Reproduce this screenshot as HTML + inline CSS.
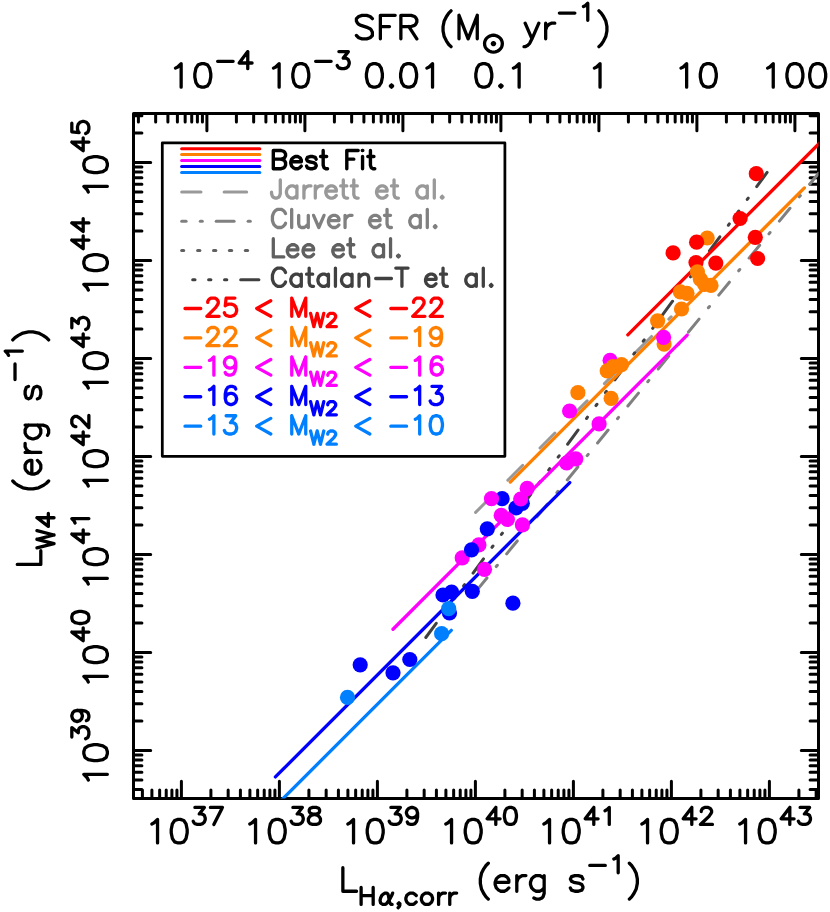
<!DOCTYPE html>
<html><head><meta charset="utf-8"><title>L_W4 vs L_Halpha</title>
<style>html,body{margin:0;padding:0;background:#fff;font-family:"Liberation Sans",sans-serif;}svg{display:block}</style>
</head><body>
<svg width="830" height="912" viewBox="0 0 830 912">
<rect x="0" y="0" width="830" height="912" fill="#fff"/>
<defs><clipPath id="cp"><rect x="133.5" y="113.5" width="685.0" height="685.0"/></clipPath></defs>
<rect x="133.5" y="113.5" width="685.0" height="685.0" fill="none" stroke="#000" stroke-width="3.0" stroke-linejoin="round"/>
<path d="M142.40 798.50L142.40 790.10 M151.90 798.50L151.90 790.10 M159.66 798.50L159.66 790.10 M166.22 798.50L166.22 790.10 M171.90 798.50L171.90 790.10 M176.92 798.50L176.92 790.10 M181.40 798.50L181.40 781.30 M210.90 798.50L210.90 790.10 M228.16 798.50L228.16 790.10 M240.40 798.50L240.40 790.10 M249.90 798.50L249.90 790.10 M257.66 798.50L257.66 790.10 M264.22 798.50L264.22 790.10 M269.90 798.50L269.90 790.10 M274.92 798.50L274.92 790.10 M279.40 798.50L279.40 781.30 M308.90 798.50L308.90 790.10 M326.16 798.50L326.16 790.10 M338.40 798.50L338.40 790.10 M347.90 798.50L347.90 790.10 M355.66 798.50L355.66 790.10 M362.22 798.50L362.22 790.10 M367.90 798.50L367.90 790.10 M372.92 798.50L372.92 790.10 M377.40 798.50L377.40 781.30 M406.90 798.50L406.90 790.10 M424.16 798.50L424.16 790.10 M436.40 798.50L436.40 790.10 M445.90 798.50L445.90 790.10 M453.66 798.50L453.66 790.10 M460.22 798.50L460.22 790.10 M465.90 798.50L465.90 790.10 M470.92 798.50L470.92 790.10 M475.40 798.50L475.40 781.30 M504.90 798.50L504.90 790.10 M522.16 798.50L522.16 790.10 M534.40 798.50L534.40 790.10 M543.90 798.50L543.90 790.10 M551.66 798.50L551.66 790.10 M558.22 798.50L558.22 790.10 M563.90 798.50L563.90 790.10 M568.92 798.50L568.92 790.10 M573.40 798.50L573.40 781.30 M602.90 798.50L602.90 790.10 M620.16 798.50L620.16 790.10 M632.40 798.50L632.40 790.10 M641.90 798.50L641.90 790.10 M649.66 798.50L649.66 790.10 M656.22 798.50L656.22 790.10 M661.90 798.50L661.90 790.10 M666.92 798.50L666.92 790.10 M671.40 798.50L671.40 781.30 M700.90 798.50L700.90 790.10 M718.16 798.50L718.16 790.10 M730.40 798.50L730.40 790.10 M739.90 798.50L739.90 790.10 M747.66 798.50L747.66 790.10 M754.22 798.50L754.22 790.10 M759.90 798.50L759.90 790.10 M764.92 798.50L764.92 790.10 M769.40 798.50L769.40 781.30 M798.90 798.50L798.90 790.10 M816.16 798.50L816.16 790.10 M138.40 113.50L138.40 121.90 M155.66 113.50L155.66 121.90 M167.90 113.50L167.90 121.90 M177.40 113.50L177.40 121.90 M185.16 113.50L185.16 121.90 M191.72 113.50L191.72 121.90 M197.40 113.50L197.40 121.90 M202.42 113.50L202.42 121.90 M206.90 113.50L206.90 130.70 M236.40 113.50L236.40 121.90 M253.66 113.50L253.66 121.90 M265.90 113.50L265.90 121.90 M275.40 113.50L275.40 121.90 M283.16 113.50L283.16 121.90 M289.72 113.50L289.72 121.90 M295.40 113.50L295.40 121.90 M300.42 113.50L300.42 121.90 M304.90 113.50L304.90 130.70 M334.40 113.50L334.40 121.90 M351.66 113.50L351.66 121.90 M363.90 113.50L363.90 121.90 M373.40 113.50L373.40 121.90 M381.16 113.50L381.16 121.90 M387.72 113.50L387.72 121.90 M393.40 113.50L393.40 121.90 M398.42 113.50L398.42 121.90 M402.90 113.50L402.90 130.70 M432.40 113.50L432.40 121.90 M449.66 113.50L449.66 121.90 M461.90 113.50L461.90 121.90 M471.40 113.50L471.40 121.90 M479.16 113.50L479.16 121.90 M485.72 113.50L485.72 121.90 M491.40 113.50L491.40 121.90 M496.42 113.50L496.42 121.90 M500.90 113.50L500.90 130.70 M530.40 113.50L530.40 121.90 M547.66 113.50L547.66 121.90 M559.90 113.50L559.90 121.90 M569.40 113.50L569.40 121.90 M577.16 113.50L577.16 121.90 M583.72 113.50L583.72 121.90 M589.40 113.50L589.40 121.90 M594.42 113.50L594.42 121.90 M598.90 113.50L598.90 130.70 M628.40 113.50L628.40 121.90 M645.66 113.50L645.66 121.90 M657.90 113.50L657.90 121.90 M667.40 113.50L667.40 121.90 M675.16 113.50L675.16 121.90 M681.72 113.50L681.72 121.90 M687.40 113.50L687.40 121.90 M692.42 113.50L692.42 121.90 M696.90 113.50L696.90 130.70 M726.40 113.50L726.40 121.90 M743.66 113.50L743.66 121.90 M755.90 113.50L755.90 121.90 M765.40 113.50L765.40 121.90 M773.16 113.50L773.16 121.90 M779.72 113.50L779.72 121.90 M785.40 113.50L785.40 121.90 M790.42 113.50L790.42 121.90 M794.90 113.50L794.90 130.70 M133.50 789.50L141.90 789.50 M818.50 789.50L810.10 789.50 M133.50 780.00L141.90 780.00 M818.50 780.00L810.10 780.00 M133.50 772.24L141.90 772.24 M818.50 772.24L810.10 772.24 M133.50 765.68L141.90 765.68 M818.50 765.68L810.10 765.68 M133.50 760.00L141.90 760.00 M818.50 760.00L810.10 760.00 M133.50 754.98L141.90 754.98 M818.50 754.98L810.10 754.98 M133.50 750.50L150.70 750.50 M818.50 750.50L801.30 750.50 M133.50 721.00L141.90 721.00 M818.50 721.00L810.10 721.00 M133.50 703.74L141.90 703.74 M818.50 703.74L810.10 703.74 M133.50 691.50L141.90 691.50 M818.50 691.50L810.10 691.50 M133.50 682.00L141.90 682.00 M818.50 682.00L810.10 682.00 M133.50 674.24L141.90 674.24 M818.50 674.24L810.10 674.24 M133.50 667.68L141.90 667.68 M818.50 667.68L810.10 667.68 M133.50 662.00L141.90 662.00 M818.50 662.00L810.10 662.00 M133.50 656.98L141.90 656.98 M818.50 656.98L810.10 656.98 M133.50 652.50L150.70 652.50 M818.50 652.50L801.30 652.50 M133.50 623.00L141.90 623.00 M818.50 623.00L810.10 623.00 M133.50 605.74L141.90 605.74 M818.50 605.74L810.10 605.74 M133.50 593.50L141.90 593.50 M818.50 593.50L810.10 593.50 M133.50 584.00L141.90 584.00 M818.50 584.00L810.10 584.00 M133.50 576.24L141.90 576.24 M818.50 576.24L810.10 576.24 M133.50 569.68L141.90 569.68 M818.50 569.68L810.10 569.68 M133.50 564.00L141.90 564.00 M818.50 564.00L810.10 564.00 M133.50 558.98L141.90 558.98 M818.50 558.98L810.10 558.98 M133.50 554.50L150.70 554.50 M818.50 554.50L801.30 554.50 M133.50 525.00L141.90 525.00 M818.50 525.00L810.10 525.00 M133.50 507.74L141.90 507.74 M818.50 507.74L810.10 507.74 M133.50 495.50L141.90 495.50 M818.50 495.50L810.10 495.50 M133.50 486.00L141.90 486.00 M818.50 486.00L810.10 486.00 M133.50 478.24L141.90 478.24 M818.50 478.24L810.10 478.24 M133.50 471.68L141.90 471.68 M818.50 471.68L810.10 471.68 M133.50 466.00L141.90 466.00 M818.50 466.00L810.10 466.00 M133.50 460.98L141.90 460.98 M818.50 460.98L810.10 460.98 M133.50 456.50L150.70 456.50 M818.50 456.50L801.30 456.50 M133.50 427.00L141.90 427.00 M818.50 427.00L810.10 427.00 M133.50 409.74L141.90 409.74 M818.50 409.74L810.10 409.74 M133.50 397.50L141.90 397.50 M818.50 397.50L810.10 397.50 M133.50 388.00L141.90 388.00 M818.50 388.00L810.10 388.00 M133.50 380.24L141.90 380.24 M818.50 380.24L810.10 380.24 M133.50 373.68L141.90 373.68 M818.50 373.68L810.10 373.68 M133.50 368.00L141.90 368.00 M818.50 368.00L810.10 368.00 M133.50 362.98L141.90 362.98 M818.50 362.98L810.10 362.98 M133.50 358.50L150.70 358.50 M818.50 358.50L801.30 358.50 M133.50 329.00L141.90 329.00 M818.50 329.00L810.10 329.00 M133.50 311.74L141.90 311.74 M818.50 311.74L810.10 311.74 M133.50 299.50L141.90 299.50 M818.50 299.50L810.10 299.50 M133.50 290.00L141.90 290.00 M818.50 290.00L810.10 290.00 M133.50 282.24L141.90 282.24 M818.50 282.24L810.10 282.24 M133.50 275.68L141.90 275.68 M818.50 275.68L810.10 275.68 M133.50 270.00L141.90 270.00 M818.50 270.00L810.10 270.00 M133.50 264.98L141.90 264.98 M818.50 264.98L810.10 264.98 M133.50 260.50L150.70 260.50 M818.50 260.50L801.30 260.50 M133.50 231.00L141.90 231.00 M818.50 231.00L810.10 231.00 M133.50 213.74L141.90 213.74 M818.50 213.74L810.10 213.74 M133.50 201.50L141.90 201.50 M818.50 201.50L810.10 201.50 M133.50 192.00L141.90 192.00 M818.50 192.00L810.10 192.00 M133.50 184.24L141.90 184.24 M818.50 184.24L810.10 184.24 M133.50 177.68L141.90 177.68 M818.50 177.68L810.10 177.68 M133.50 172.00L141.90 172.00 M818.50 172.00L810.10 172.00 M133.50 166.98L141.90 166.98 M818.50 166.98L810.10 166.98 M133.50 162.50L150.70 162.50 M818.50 162.50L801.30 162.50 M133.50 133.00L141.90 133.00 M818.50 133.00L810.10 133.00 M133.50 115.74L141.90 115.74 M818.50 115.74L810.10 115.74" stroke="#000" stroke-width="3.0" stroke-linecap="round" fill="none"/>
<g clip-path="url(#cp)">
<line x1="475.60" y1="512.40" x2="671.20" y2="316.80" stroke="#999999" stroke-width="3.0" stroke-linecap="round" stroke-dasharray="21.10 24.45" stroke-dashoffset="0"/>
<line x1="475.40" y1="592.00" x2="818.60" y2="173.30" stroke="#808080" stroke-width="3.0" stroke-linecap="round" stroke-dasharray="16.70 14.70 1.70 14.70" stroke-dashoffset="-1.5"/>
<line x1="425.80" y1="637.50" x2="768.20" y2="170.90" stroke="#404040" stroke-width="3.0" stroke-linecap="round" stroke-dasharray="17.60 14.30 1.70 14.30 1.70 14.30 1.70 14.30" stroke-dashoffset="0"/>
<line x1="263.30" y1="818.30" x2="451.30" y2="630.30" stroke="#007fff" stroke-width="3.3" stroke-linecap="round"/>
<line x1="275.40" y1="776.95" x2="569.80" y2="482.55" stroke="#0000ff" stroke-width="3.3" stroke-linecap="round"/>
<line x1="393.00" y1="629.25" x2="687.20" y2="335.05" stroke="#ff00ff" stroke-width="3.3" stroke-linecap="round"/>
<line x1="510.30" y1="482.05" x2="804.40" y2="187.95" stroke="#ff7f00" stroke-width="3.3" stroke-linecap="round"/>
<line x1="627.80" y1="334.85" x2="840.00" y2="122.65" stroke="#ff0000" stroke-width="3.3" stroke-linecap="round"/>
<circle cx="610.1" cy="360.3" r="7.6" fill="#ff00ff"/>
<circle cx="502.1" cy="498.7" r="7.6" fill="#0000ff"/>
<circle cx="516.0" cy="507.8" r="7.6" fill="#0000ff"/>
<circle cx="522.3" cy="503.3" r="7.6" fill="#0000ff"/>
<circle cx="487.3" cy="528.8" r="7.6" fill="#0000ff"/>
<circle cx="443.0" cy="595.0" r="7.6" fill="#0000ff"/>
<circle cx="451.6" cy="592.0" r="7.6" fill="#0000ff"/>
<circle cx="472.3" cy="591.3" r="7.6" fill="#0000ff"/>
<circle cx="512.9" cy="603.2" r="7.6" fill="#0000ff"/>
<circle cx="449.5" cy="613.0" r="7.6" fill="#0000ff"/>
<circle cx="409.8" cy="659.5" r="7.6" fill="#0000ff"/>
<circle cx="393.0" cy="672.8" r="7.6" fill="#0000ff"/>
<circle cx="360.2" cy="664.8" r="7.6" fill="#0000ff"/>
<circle cx="448.7" cy="608.7" r="7.6" fill="#007fff"/>
<circle cx="441.6" cy="633.7" r="7.6" fill="#007fff"/>
<circle cx="347.5" cy="697.4" r="7.6" fill="#007fff"/>
<circle cx="707.2" cy="238.0" r="7.6" fill="#ff7f00"/>
<circle cx="700.3" cy="279.1" r="7.6" fill="#ff7f00"/>
<circle cx="704.6" cy="284.4" r="7.6" fill="#ff7f00"/>
<circle cx="711.0" cy="285.4" r="7.6" fill="#ff7f00"/>
<circle cx="680.4" cy="291.9" r="7.6" fill="#ff7f00"/>
<circle cx="687.0" cy="293.3" r="7.6" fill="#ff7f00"/>
<circle cx="681.5" cy="309.0" r="7.6" fill="#ff7f00"/>
<circle cx="657.6" cy="320.8" r="7.6" fill="#ff7f00"/>
<circle cx="664.1" cy="344.1" r="7.6" fill="#ff7f00"/>
<circle cx="607.2" cy="370.9" r="7.6" fill="#ff7f00"/>
<circle cx="613.0" cy="366.6" r="7.6" fill="#ff7f00"/>
<circle cx="621.5" cy="364.6" r="7.6" fill="#ff7f00"/>
<circle cx="577.9" cy="392.7" r="7.6" fill="#ff7f00"/>
<circle cx="611.1" cy="398.4" r="7.6" fill="#ff7f00"/>
<circle cx="663.6" cy="337.3" r="7.6" fill="#ff00ff"/>
<circle cx="569.6" cy="411.0" r="7.6" fill="#ff00ff"/>
<circle cx="599.1" cy="423.9" r="7.6" fill="#ff00ff"/>
<circle cx="566.7" cy="463.0" r="7.6" fill="#ff00ff"/>
<circle cx="575.8" cy="458.8" r="7.6" fill="#ff00ff"/>
<circle cx="527.2" cy="488.4" r="7.6" fill="#ff00ff"/>
<circle cx="520.7" cy="499.0" r="7.6" fill="#ff00ff"/>
<circle cx="491.5" cy="498.7" r="7.6" fill="#ff00ff"/>
<circle cx="501.2" cy="515.4" r="7.6" fill="#ff00ff"/>
<circle cx="507.4" cy="519.5" r="7.6" fill="#ff00ff"/>
<circle cx="522.4" cy="524.9" r="7.6" fill="#ff00ff"/>
<circle cx="478.9" cy="544.9" r="7.6" fill="#ff00ff"/>
<circle cx="462.2" cy="557.8" r="7.6" fill="#ff00ff"/>
<circle cx="484.5" cy="569.3" r="7.6" fill="#ff00ff"/>
<circle cx="756.3" cy="173.7" r="7.6" fill="#ff0000"/>
<circle cx="740.1" cy="218.5" r="7.6" fill="#ff0000"/>
<circle cx="755.3" cy="237.3" r="7.6" fill="#ff0000"/>
<circle cx="757.6" cy="258.5" r="7.6" fill="#ff0000"/>
<circle cx="696.6" cy="242.2" r="7.6" fill="#ff0000"/>
<circle cx="673.1" cy="252.9" r="7.6" fill="#ff0000"/>
<circle cx="696.0" cy="262.6" r="7.6" fill="#ff0000"/>
<circle cx="715.8" cy="263.1" r="7.6" fill="#ff0000"/>
<circle cx="697.4" cy="271.8" r="7.6" fill="#ff7f00"/>
<circle cx="471.5" cy="549.8" r="7.6" fill="#0000ff"/>
</g>
<path d="M151.84 823.91 L154.12 822.79 L157.54 819.43 L157.54 842.95 M178.06 819.43 L174.64 820.55 L172.36 823.91 L171.22 829.51 L171.22 832.87 L172.36 838.47 L174.64 841.83 L178.06 842.95 L180.34 842.95 L183.76 841.83 L186.04 838.47 L187.18 832.87 L187.18 829.51 L186.04 823.91 L183.76 820.55 L180.34 819.43 L178.06 819.43 M194.90 807.42 L204.37 807.42 L199.21 813.91 L201.79 813.91 L203.51 814.73 L204.37 815.54 L205.23 817.97 L205.23 819.60 L204.37 822.03 L202.65 823.66 L200.07 824.47 L197.49 824.47 L194.90 823.66 L194.04 822.85 L193.18 821.22 M222.45 807.42 L213.84 824.47 M210.40 807.42 L222.45 807.42" fill="none" stroke="#000" stroke-width="3.3" stroke-linecap="round" stroke-linejoin="round"/>
<path d="M249.84 823.91 L252.12 822.79 L255.54 819.43 L255.54 842.95 M276.06 819.43 L272.64 820.55 L270.36 823.91 L269.22 829.51 L269.22 832.87 L270.36 838.47 L272.64 841.83 L276.06 842.95 L278.34 842.95 L281.76 841.83 L284.04 838.47 L285.18 832.87 L285.18 829.51 L284.04 823.91 L281.76 820.55 L278.34 819.43 L276.06 819.43 M292.90 807.42 L302.37 807.42 L297.21 813.91 L299.79 813.91 L301.51 814.73 L302.37 815.54 L303.23 817.97 L303.23 819.60 L302.37 822.03 L300.65 823.66 L298.07 824.47 L295.49 824.47 L292.90 823.66 L292.04 822.85 L291.18 821.22 M312.70 807.42 L310.12 808.23 L309.26 809.85 L309.26 811.48 L310.12 813.10 L311.84 813.91 L315.28 814.73 L317.86 815.54 L319.59 817.16 L320.45 818.79 L320.45 821.22 L319.59 822.85 L318.72 823.66 L316.14 824.47 L312.70 824.47 L310.12 823.66 L309.26 822.85 L308.40 821.22 L308.40 818.79 L309.26 817.16 L310.98 815.54 L313.56 814.73 L317.00 813.91 L318.72 813.10 L319.59 811.48 L319.59 809.85 L318.72 808.23 L316.14 807.42 L312.70 807.42" fill="none" stroke="#000" stroke-width="3.3" stroke-linecap="round" stroke-linejoin="round"/>
<path d="M347.84 823.91 L350.12 822.79 L353.54 819.43 L353.54 842.95 M374.06 819.43 L370.64 820.55 L368.36 823.91 L367.22 829.51 L367.22 832.87 L368.36 838.47 L370.64 841.83 L374.06 842.95 L376.34 842.95 L379.76 841.83 L382.04 838.47 L383.18 832.87 L383.18 829.51 L382.04 823.91 L379.76 820.55 L376.34 819.43 L374.06 819.43 M390.90 807.42 L400.37 807.42 L395.21 813.91 L397.79 813.91 L399.51 814.73 L400.37 815.54 L401.23 817.97 L401.23 819.60 L400.37 822.03 L398.65 823.66 L396.07 824.47 L393.49 824.47 L390.90 823.66 L390.04 822.85 L389.18 821.22 M417.59 813.10 L416.72 815.54 L415.00 817.16 L412.42 817.97 L411.56 817.97 L408.98 817.16 L407.26 815.54 L406.40 813.10 L406.40 812.29 L407.26 809.85 L408.98 808.23 L411.56 807.42 L412.42 807.42 L415.00 808.23 L416.72 809.85 L417.59 813.10 L417.59 817.16 L416.72 821.22 L415.00 823.66 L412.42 824.47 L410.70 824.47 L408.12 823.66 L407.26 822.03" fill="none" stroke="#000" stroke-width="3.3" stroke-linecap="round" stroke-linejoin="round"/>
<path d="M445.84 823.91 L448.12 822.79 L451.54 819.43 L451.54 842.95 M472.06 819.43 L468.64 820.55 L466.36 823.91 L465.22 829.51 L465.22 832.87 L466.36 838.47 L468.64 841.83 L472.06 842.95 L474.34 842.95 L477.76 841.83 L480.04 838.47 L481.18 832.87 L481.18 829.51 L480.04 823.91 L477.76 820.55 L474.34 819.43 L472.06 819.43 M495.79 807.42 L487.18 818.79 L500.09 818.79 M495.79 807.42 L495.79 824.47 M509.56 807.42 L506.98 808.23 L505.26 810.67 L504.40 814.73 L504.40 817.16 L505.26 821.22 L506.98 823.66 L509.56 824.47 L511.28 824.47 L513.86 823.66 L515.59 821.22 L516.45 817.16 L516.45 814.73 L515.59 810.67 L513.86 808.23 L511.28 807.42 L509.56 807.42" fill="none" stroke="#000" stroke-width="3.3" stroke-linecap="round" stroke-linejoin="round"/>
<path d="M543.84 823.91 L546.12 822.79 L549.54 819.43 L549.54 842.95 M570.06 819.43 L566.64 820.55 L564.36 823.91 L563.22 829.51 L563.22 832.87 L564.36 838.47 L566.64 841.83 L570.06 842.95 L572.34 842.95 L575.76 841.83 L578.04 838.47 L579.18 832.87 L579.18 829.51 L578.04 823.91 L575.76 820.55 L572.34 819.43 L570.06 819.43 M593.79 807.42 L585.18 818.79 L598.09 818.79 M593.79 807.42 L593.79 824.47 M604.98 810.67 L606.70 809.85 L609.28 807.42 L609.28 824.47" fill="none" stroke="#000" stroke-width="3.3" stroke-linecap="round" stroke-linejoin="round"/>
<path d="M641.84 823.91 L644.12 822.79 L647.54 819.43 L647.54 842.95 M668.06 819.43 L664.64 820.55 L662.36 823.91 L661.22 829.51 L661.22 832.87 L662.36 838.47 L664.64 841.83 L668.06 842.95 L670.34 842.95 L673.76 841.83 L676.04 838.47 L677.18 832.87 L677.18 829.51 L676.04 823.91 L673.76 820.55 L670.34 819.43 L668.06 819.43 M691.79 807.42 L683.18 818.79 L696.09 818.79 M691.79 807.42 L691.79 824.47 M701.26 811.48 L701.26 810.67 L702.12 809.04 L702.98 808.23 L704.70 807.42 L708.14 807.42 L709.86 808.23 L710.72 809.04 L711.59 810.67 L711.59 812.29 L710.72 813.91 L709.00 816.35 L700.40 824.47 L712.45 824.47" fill="none" stroke="#000" stroke-width="3.3" stroke-linecap="round" stroke-linejoin="round"/>
<path d="M739.84 823.91 L742.12 822.79 L745.54 819.43 L745.54 842.95 M766.06 819.43 L762.64 820.55 L760.36 823.91 L759.22 829.51 L759.22 832.87 L760.36 838.47 L762.64 841.83 L766.06 842.95 L768.34 842.95 L771.76 841.83 L774.04 838.47 L775.18 832.87 L775.18 829.51 L774.04 823.91 L771.76 820.55 L768.34 819.43 L766.06 819.43 M789.79 807.42 L781.18 818.79 L794.09 818.79 M789.79 807.42 L789.79 824.47 M800.12 807.42 L809.59 807.42 L804.42 813.91 L807.00 813.91 L808.72 814.73 L809.59 815.54 L810.45 817.97 L810.45 819.60 L809.59 822.03 L807.86 823.66 L805.28 824.47 L802.70 824.47 L800.12 823.66 L799.26 822.85 L798.40 821.22" fill="none" stroke="#000" stroke-width="3.3" stroke-linecap="round" stroke-linejoin="round"/>
<path d="M88.31 780.06 L87.19 777.78 L83.83 774.36 L107.35 774.36 M83.83 753.84 L84.95 757.26 L88.31 759.54 L93.91 760.68 L97.27 760.68 L102.87 759.54 L106.23 757.26 L107.35 753.84 L107.35 751.56 L106.23 748.14 L102.87 745.86 L97.27 744.72 L93.91 744.72 L88.31 745.86 L84.95 748.14 L83.83 751.56 L83.83 753.84 M71.82 737.00 L71.82 727.53 L78.31 732.69 L78.31 730.11 L79.13 728.39 L79.94 727.53 L82.37 726.67 L84.00 726.67 L86.43 727.53 L88.06 729.25 L88.87 731.83 L88.87 734.41 L88.06 737.00 L87.25 737.86 L85.62 738.72 M77.50 710.31 L79.94 711.18 L81.56 712.90 L82.37 715.48 L82.37 716.34 L81.56 718.92 L79.94 720.64 L77.50 721.50 L76.69 721.50 L74.25 720.64 L72.63 718.92 L71.82 716.34 L71.82 715.48 L72.63 712.90 L74.25 711.18 L77.50 710.31 L81.56 710.31 L85.62 711.18 L88.06 712.90 L88.87 715.48 L88.87 717.20 L88.06 719.78 L86.43 720.64" fill="none" stroke="#000" stroke-width="3.3" stroke-linecap="round" stroke-linejoin="round"/>
<path d="M88.31 682.06 L87.19 679.78 L83.83 676.36 L107.35 676.36 M83.83 655.84 L84.95 659.26 L88.31 661.54 L93.91 662.68 L97.27 662.68 L102.87 661.54 L106.23 659.26 L107.35 655.84 L107.35 653.56 L106.23 650.14 L102.87 647.86 L97.27 646.72 L93.91 646.72 L88.31 647.86 L84.95 650.14 L83.83 653.56 L83.83 655.84 M71.82 632.11 L83.19 640.72 L83.19 627.81 M71.82 632.11 L88.87 632.11 M71.82 618.34 L72.63 620.92 L75.07 622.64 L79.13 623.50 L81.56 623.50 L85.62 622.64 L88.06 620.92 L88.87 618.34 L88.87 616.62 L88.06 614.04 L85.62 612.31 L81.56 611.45 L79.13 611.45 L75.07 612.31 L72.63 614.04 L71.82 616.62 L71.82 618.34" fill="none" stroke="#000" stroke-width="3.3" stroke-linecap="round" stroke-linejoin="round"/>
<path d="M88.31 584.06 L87.19 581.78 L83.83 578.36 L107.35 578.36 M83.83 557.84 L84.95 561.26 L88.31 563.54 L93.91 564.68 L97.27 564.68 L102.87 563.54 L106.23 561.26 L107.35 557.84 L107.35 555.56 L106.23 552.14 L102.87 549.86 L97.27 548.72 L93.91 548.72 L88.31 549.86 L84.95 552.14 L83.83 555.56 L83.83 557.84 M71.82 534.11 L83.19 542.72 L83.19 529.81 M71.82 534.11 L88.87 534.11 M75.07 522.92 L74.25 521.20 L71.82 518.62 L88.87 518.62" fill="none" stroke="#000" stroke-width="3.3" stroke-linecap="round" stroke-linejoin="round"/>
<path d="M88.31 486.06 L87.19 483.78 L83.83 480.36 L107.35 480.36 M83.83 459.84 L84.95 463.26 L88.31 465.54 L93.91 466.68 L97.27 466.68 L102.87 465.54 L106.23 463.26 L107.35 459.84 L107.35 457.56 L106.23 454.14 L102.87 451.86 L97.27 450.72 L93.91 450.72 L88.31 451.86 L84.95 454.14 L83.83 457.56 L83.83 459.84 M71.82 436.11 L83.19 444.72 L83.19 431.81 M71.82 436.11 L88.87 436.11 M75.88 426.64 L75.07 426.64 L73.44 425.78 L72.63 424.92 L71.82 423.20 L71.82 419.76 L72.63 418.04 L73.44 417.18 L75.07 416.31 L76.69 416.31 L78.31 417.18 L80.75 418.90 L88.87 427.50 L88.87 415.45" fill="none" stroke="#000" stroke-width="3.3" stroke-linecap="round" stroke-linejoin="round"/>
<path d="M88.31 388.06 L87.19 385.78 L83.83 382.36 L107.35 382.36 M83.83 361.84 L84.95 365.26 L88.31 367.54 L93.91 368.68 L97.27 368.68 L102.87 367.54 L106.23 365.26 L107.35 361.84 L107.35 359.56 L106.23 356.14 L102.87 353.86 L97.27 352.72 L93.91 352.72 L88.31 353.86 L84.95 356.14 L83.83 359.56 L83.83 361.84 M71.82 338.11 L83.19 346.72 L83.19 333.81 M71.82 338.11 L88.87 338.11 M71.82 327.78 L71.82 318.31 L78.31 323.48 L78.31 320.90 L79.13 319.18 L79.94 318.31 L82.37 317.45 L84.00 317.45 L86.43 318.31 L88.06 320.04 L88.87 322.62 L88.87 325.20 L88.06 327.78 L87.25 328.64 L85.62 329.50" fill="none" stroke="#000" stroke-width="3.3" stroke-linecap="round" stroke-linejoin="round"/>
<path d="M88.31 290.06 L87.19 287.78 L83.83 284.36 L107.35 284.36 M83.83 263.84 L84.95 267.26 L88.31 269.54 L93.91 270.68 L97.27 270.68 L102.87 269.54 L106.23 267.26 L107.35 263.84 L107.35 261.56 L106.23 258.14 L102.87 255.86 L97.27 254.72 L93.91 254.72 L88.31 255.86 L84.95 258.14 L83.83 261.56 L83.83 263.84 M71.82 240.11 L83.19 248.72 L83.19 235.81 M71.82 240.11 L88.87 240.11 M71.82 222.90 L83.19 231.50 L83.19 218.59 M71.82 222.90 L88.87 222.90" fill="none" stroke="#000" stroke-width="3.3" stroke-linecap="round" stroke-linejoin="round"/>
<path d="M88.31 192.06 L87.19 189.78 L83.83 186.36 L107.35 186.36 M83.83 165.84 L84.95 169.26 L88.31 171.54 L93.91 172.68 L97.27 172.68 L102.87 171.54 L106.23 169.26 L107.35 165.84 L107.35 163.56 L106.23 160.14 L102.87 157.86 L97.27 156.72 L93.91 156.72 L88.31 157.86 L84.95 160.14 L83.83 163.56 L83.83 165.84 M71.82 142.11 L83.19 150.72 L83.19 137.81 M71.82 142.11 L88.87 142.11 M71.82 123.18 L71.82 131.78 L79.13 132.64 L78.31 131.78 L77.50 129.20 L77.50 126.62 L78.31 124.04 L79.94 122.31 L82.37 121.45 L84.00 121.45 L86.43 122.31 L88.06 124.04 L88.87 126.62 L88.87 129.20 L88.06 131.78 L87.25 132.64 L85.62 133.50" fill="none" stroke="#000" stroke-width="3.3" stroke-linecap="round" stroke-linejoin="round"/>
<path d="M175.44 68.11 L177.72 66.99 L181.14 63.63 L181.14 87.15 M201.66 63.63 L198.24 64.75 L195.96 68.11 L194.82 73.71 L194.82 77.07 L195.96 82.67 L198.24 86.03 L201.66 87.15 L203.94 87.15 L207.36 86.03 L209.64 82.67 L210.78 77.07 L210.78 73.71 L209.64 68.11 L207.36 64.75 L203.94 63.63 L201.66 63.63 M217.64 61.36 L233.14 61.36 M247.77 51.62 L239.16 62.99 L252.07 62.99 M247.77 51.62 L247.77 68.67" fill="none" stroke="#000" stroke-width="3.3" stroke-linecap="round" stroke-linejoin="round"/>
<path d="M273.44 68.11 L275.72 66.99 L279.14 63.63 L279.14 87.15 M299.66 63.63 L296.24 64.75 L293.96 68.11 L292.82 73.71 L292.82 77.07 L293.96 82.67 L296.24 86.03 L299.66 87.15 L301.94 87.15 L305.36 86.03 L307.64 82.67 L308.78 77.07 L308.78 73.71 L307.64 68.11 L305.36 64.75 L301.94 63.63 L299.66 63.63 M315.64 61.36 L331.14 61.36 M338.88 51.62 L348.35 51.62 L343.19 58.11 L345.77 58.11 L347.49 58.93 L348.35 59.74 L349.21 62.17 L349.21 63.80 L348.35 66.23 L346.63 67.86 L344.05 68.67 L341.46 68.67 L338.88 67.86 L338.02 67.05 L337.16 65.42" fill="none" stroke="#000" stroke-width="3.3" stroke-linecap="round" stroke-linejoin="round"/>
<path d="M373.26 63.63 L369.84 64.75 L367.56 68.11 L366.42 73.71 L366.42 77.07 L367.56 82.67 L369.84 86.03 L373.26 87.15 L375.54 87.15 L378.96 86.03 L381.24 82.67 L382.38 77.07 L382.38 73.71 L381.24 68.11 L378.96 64.75 L375.54 63.63 L373.26 63.63 M391.50 84.91 L390.36 86.03 L391.50 87.15 L392.64 86.03 L391.50 84.91 M407.46 63.63 L404.04 64.75 L401.76 68.11 L400.62 73.71 L400.62 77.07 L401.76 82.67 L404.04 86.03 L407.46 87.15 L409.74 87.15 L413.16 86.03 L415.44 82.67 L416.58 77.07 L416.58 73.71 L415.44 68.11 L413.16 64.75 L409.74 63.63 L407.46 63.63 M426.84 68.11 L429.12 66.99 L432.54 63.63 L432.54 87.15" fill="none" stroke="#000" stroke-width="3.3" stroke-linecap="round" stroke-linejoin="round"/>
<path d="M482.66 63.63 L479.24 64.75 L476.96 68.11 L475.82 73.71 L475.82 77.07 L476.96 82.67 L479.24 86.03 L482.66 87.15 L484.94 87.15 L488.36 86.03 L490.64 82.67 L491.78 77.07 L491.78 73.71 L490.64 68.11 L488.36 64.75 L484.94 63.63 L482.66 63.63 M500.90 84.91 L499.76 86.03 L500.90 87.15 L502.04 86.03 L500.90 84.91 M513.44 68.11 L515.72 66.99 L519.14 63.63 L519.14 87.15" fill="none" stroke="#000" stroke-width="3.3" stroke-linecap="round" stroke-linejoin="round"/>
<path d="M594.34 68.11 L596.62 66.99 L600.04 63.63 L600.04 87.15" fill="none" stroke="#000" stroke-width="3.3" stroke-linecap="round" stroke-linejoin="round"/>
<path d="M680.94 68.11 L683.22 66.99 L686.64 63.63 L686.64 87.15 M707.16 63.63 L703.74 64.75 L701.46 68.11 L700.32 73.71 L700.32 77.07 L701.46 82.67 L703.74 86.03 L707.16 87.15 L709.44 87.15 L712.86 86.03 L715.14 82.67 L716.28 77.07 L716.28 73.71 L715.14 68.11 L712.86 64.75 L709.44 63.63 L707.16 63.63" fill="none" stroke="#000" stroke-width="3.3" stroke-linecap="round" stroke-linejoin="round"/>
<path d="M767.54 68.11 L769.82 66.99 L773.24 63.63 L773.24 87.15 M793.76 63.63 L790.34 64.75 L788.06 68.11 L786.92 73.71 L786.92 77.07 L788.06 82.67 L790.34 86.03 L793.76 87.15 L796.04 87.15 L799.46 86.03 L801.74 82.67 L802.88 77.07 L802.88 73.71 L801.74 68.11 L799.46 64.75 L796.04 63.63 L793.76 63.63 M816.56 63.63 L813.14 64.75 L810.86 68.11 L809.72 73.71 L809.72 77.07 L810.86 82.67 L813.14 86.03 L816.56 87.15 L818.84 87.15 L822.26 86.03 L824.54 82.67 L825.68 77.07 L825.68 73.71 L824.54 68.11 L822.26 64.75 L818.84 63.63 L816.56 63.63" fill="none" stroke="#000" stroke-width="3.3" stroke-linecap="round" stroke-linejoin="round"/>
<path d="M372.38 18.69 L370.10 16.45 L366.68 15.33 L362.12 15.33 L358.70 16.45 L356.42 18.69 L356.42 20.93 L357.56 23.17 L358.70 24.29 L360.98 25.41 L367.82 27.65 L370.10 28.77 L371.24 29.89 L372.38 32.13 L372.38 35.49 L370.10 37.73 L366.68 38.85 L362.12 38.85 L358.70 37.73 L356.42 35.49 M380.36 15.33 L380.36 38.85 M380.36 15.33 L395.18 15.33 M380.36 26.53 L389.48 26.53 M400.88 15.33 L400.88 38.85 M400.88 15.33 L411.14 15.33 L414.56 16.45 L415.70 17.57 L416.84 19.81 L416.84 22.05 L415.70 24.29 L414.56 25.41 L411.14 26.53 L400.88 26.53 M408.86 26.53 L416.84 38.85 M451.04 10.85 L448.76 13.09 L446.48 16.45 L444.20 20.93 L443.06 26.53 L443.06 31.01 L444.20 36.61 L446.48 41.09 L448.76 44.45 L451.04 46.69 M459.02 15.33 L459.02 38.85 M459.02 15.33 L468.14 38.85 M477.26 15.33 L468.14 38.85 M477.26 15.33 L477.26 38.85 M502.35 43.66 L502.12 41.79 L501.47 40.02 L500.40 38.42 L498.99 37.09 L497.30 36.09 L495.42 35.47 L493.44 35.26 L491.46 35.47 L489.57 36.09 L487.89 37.09 L486.47 38.42 L485.41 40.02 L484.75 41.79 L484.53 43.66 L484.75 45.53 L485.41 47.31 L486.47 48.90 L487.89 50.23 L489.57 51.23 L491.46 51.86 L493.44 52.07 L495.42 51.86 L497.30 51.23 L498.99 50.23 L500.40 48.90 L501.47 47.31 L502.12 45.53 L502.35 43.66 M494.56 43.66 L494.23 42.92 L493.44 42.61 L492.65 42.92 L492.32 43.66 L492.65 44.41 L493.44 44.72 L494.23 44.41 L494.56 43.66 M493.18 43.66 L493.70 43.66 M525.15 23.17 L531.99 38.85 M538.83 23.17 L531.99 38.85 L529.71 43.33 L527.43 45.57 L525.15 46.69 L524.01 46.69 M545.67 23.17 L545.67 38.85 M545.67 29.89 L546.81 26.53 L549.09 24.29 L551.37 23.17 L554.79 23.17 M559.37 13.06 L574.86 13.06 M583.47 6.57 L585.19 5.75 L587.77 3.32 L587.77 20.37 M598.94 10.85 L601.22 13.09 L603.50 16.45 L605.78 20.93 L606.92 26.53 L606.92 31.01 L605.78 36.61 L603.50 41.09 L601.22 44.45 L598.94 46.69" fill="none" stroke="#000" stroke-width="3.3" stroke-linecap="round" stroke-linejoin="round"/>
<path d="M342.86 867.73 L342.86 891.25 M342.86 891.25 L356.54 891.25 M361.12 887.41 L361.12 904.47 M373.17 887.41 L373.17 904.47 M361.12 895.53 L373.17 895.53 M385.22 893.10 L383.50 893.91 L381.78 895.53 L380.57 897.97 L380.06 900.41 L380.57 902.84 L381.44 903.65 L383.07 904.47 L384.79 904.47 L386.51 903.65 L388.23 901.22 L390.39 897.97 L391.68 895.53 L392.62 893.10 M385.22 893.10 L386.94 893.10 L387.80 893.91 L388.41 895.53 L389.53 902.03 L390.39 903.65 L391.25 904.47 L392.11 904.47 M399.85 903.65 L398.99 904.47 L398.13 903.65 L398.99 902.84 L399.85 903.65 L399.85 905.28 L398.99 906.90 L398.13 907.71 M416.21 895.53 L414.49 893.91 L412.76 893.10 L410.18 893.10 L408.46 893.91 L406.74 895.53 L405.88 897.97 L405.88 899.59 L406.74 902.03 L408.46 903.65 L410.18 904.47 L412.76 904.47 L414.49 903.65 L416.21 902.03 M425.68 893.10 L423.95 893.91 L422.23 895.53 L421.37 897.97 L421.37 899.59 L422.23 902.03 L423.95 903.65 L425.68 904.47 L428.26 904.47 L429.98 903.65 L431.70 902.03 L432.56 899.59 L432.56 897.97 L431.70 895.53 L429.98 893.91 L428.26 893.10 L425.68 893.10 M438.59 893.10 L438.59 904.47 M438.59 897.97 L439.45 895.53 L441.17 893.91 L442.89 893.10 L445.47 893.10 M449.77 893.10 L449.77 904.47 M449.77 897.97 L450.64 895.53 L452.36 893.91 L454.08 893.10 L456.66 893.10 M488.30 863.25 L486.02 865.49 L483.74 868.85 L481.46 873.33 L480.32 878.93 L480.32 883.41 L481.46 889.01 L483.74 893.49 L486.02 896.85 L488.30 899.09 M495.14 882.29 L508.82 882.29 L508.82 880.05 L507.68 877.81 L506.54 876.69 L504.26 875.57 L500.84 875.57 L498.56 876.69 L496.28 878.93 L495.14 882.29 L495.14 884.53 L496.28 887.89 L498.56 890.13 L500.84 891.25 L504.26 891.25 L506.54 890.13 L508.82 887.89 M516.80 875.57 L516.80 891.25 M516.80 882.29 L517.94 878.93 L520.22 876.69 L522.50 875.57 L525.92 875.57 M544.16 875.57 L544.16 893.49 L543.02 896.85 L541.88 897.97 L539.60 899.09 L536.18 899.09 L533.90 897.97 M544.16 878.93 L541.88 876.69 L539.60 875.57 L536.18 875.57 L533.90 876.69 L531.62 878.93 L530.48 882.29 L530.48 884.53 L531.62 887.89 L533.90 890.13 L536.18 891.25 L539.60 891.25 L541.88 890.13 L544.16 887.89 M582.92 878.93 L581.78 876.69 L578.36 875.57 L574.94 875.57 L571.52 876.69 L570.38 878.93 L571.52 881.17 L573.80 882.29 L579.50 883.41 L581.78 884.53 L582.92 886.77 L582.92 887.89 L581.78 890.13 L578.36 891.25 L574.94 891.25 L571.52 890.13 L570.38 887.89 M589.78 865.46 L605.28 865.46 M613.88 858.97 L615.61 858.15 L618.19 855.72 L618.19 872.77 M629.35 863.25 L631.63 865.49 L633.91 868.85 L636.19 873.33 L637.33 878.93 L637.33 883.41 L636.19 889.01 L633.91 893.49 L631.63 896.85 L629.35 899.09" fill="none" stroke="#000" stroke-width="3.3" stroke-linecap="round" stroke-linejoin="round"/>
<path d="M17.28 564.44 L40.80 564.44 M40.80 564.44 L40.80 550.76 M36.96 547.90 L54.02 543.60 M36.96 539.29 L54.02 543.60 M36.96 539.29 L54.02 534.99 M36.96 530.68 L54.02 534.99 M36.96 517.77 L48.33 526.38 L48.33 513.47 M36.96 517.77 L54.02 517.77 M12.80 480.97 L15.04 483.25 L18.40 485.53 L22.88 487.81 L28.48 488.95 L32.96 488.95 L38.56 487.81 L43.04 485.53 L46.40 483.25 L48.64 480.97 M31.84 474.13 L31.84 460.45 L29.60 460.45 L27.36 461.59 L26.24 462.73 L25.12 465.01 L25.12 468.43 L26.24 470.71 L28.48 472.99 L31.84 474.13 L34.08 474.13 L37.44 472.99 L39.68 470.71 L40.80 468.43 L40.80 465.01 L39.68 462.73 L37.44 460.45 M25.12 452.47 L40.80 452.47 M31.84 452.47 L28.48 451.33 L26.24 449.05 L25.12 446.77 L25.12 443.35 M25.12 425.11 L43.04 425.11 L46.40 426.25 L47.52 427.39 L48.64 429.67 L48.64 433.09 L47.52 435.37 M28.48 425.11 L26.24 427.39 L25.12 429.67 L25.12 433.09 L26.24 435.37 L28.48 437.65 L31.84 438.79 L34.08 438.79 L37.44 437.65 L39.68 435.37 L40.80 433.09 L40.80 429.67 L39.68 427.39 L37.44 425.11 M28.48 386.35 L26.24 387.49 L25.12 390.91 L25.12 394.33 L26.24 397.75 L28.48 398.89 L30.72 397.75 L31.84 395.47 L32.96 389.77 L34.08 387.49 L36.32 386.35 L37.44 386.35 L39.68 387.49 L40.80 390.91 L40.80 394.33 L39.68 397.75 L37.44 398.89 M15.01 379.49 L15.01 363.99 M8.52 355.39 L7.70 353.67 L5.27 351.08 L22.32 351.08 M12.80 339.92 L15.04 337.64 L18.40 335.36 L22.88 333.08 L28.48 331.94 L32.96 331.94 L38.56 333.08 L43.04 335.36 L46.40 337.64 L48.64 339.92" fill="none" stroke="#000" stroke-width="3.3" stroke-linecap="round" stroke-linejoin="round"/>
<rect x="162.3" y="142.95" width="342.60" height="313.35" fill="none" stroke="#000" stroke-width="2.75" stroke-linejoin="round"/>
<line x1="181.60" y1="148.70" x2="259.80" y2="148.70" stroke="#ff0000" stroke-width="3.0" stroke-linecap="round"/>
<line x1="181.60" y1="154.60" x2="259.80" y2="154.60" stroke="#ff7f00" stroke-width="3.0" stroke-linecap="round"/>
<line x1="181.60" y1="160.60" x2="259.80" y2="160.60" stroke="#ff00ff" stroke-width="3.0" stroke-linecap="round"/>
<line x1="181.60" y1="166.50" x2="259.80" y2="166.50" stroke="#0000ff" stroke-width="3.0" stroke-linecap="round"/>
<line x1="181.60" y1="172.40" x2="259.80" y2="172.40" stroke="#007fff" stroke-width="3.0" stroke-linecap="round"/>
<line x1="181.70" y1="191.90" x2="201.00" y2="191.90" stroke="#999999" stroke-width="3.0" stroke-linecap="round"/>
<line x1="224.10" y1="191.90" x2="246.70" y2="191.90" stroke="#999999" stroke-width="3.0" stroke-linecap="round"/>
<line x1="181.70" y1="221.20" x2="186.10" y2="221.20" stroke="#808080" stroke-width="3.0" stroke-linecap="round"/>
<line x1="200.30" y1="221.20" x2="202.30" y2="221.20" stroke="#808080" stroke-width="3.0" stroke-linecap="round"/>
<line x1="216.20" y1="221.20" x2="234.10" y2="221.20" stroke="#808080" stroke-width="3.0" stroke-linecap="round"/>
<line x1="248.10" y1="221.20" x2="250.30" y2="221.20" stroke="#808080" stroke-width="3.0" stroke-linecap="round"/>
<line x1="181.70" y1="250.50" x2="183.70" y2="250.50" stroke="#606060" stroke-width="3.0" stroke-linecap="round"/>
<line x1="197.60" y1="250.50" x2="199.90" y2="250.50" stroke="#606060" stroke-width="3.0" stroke-linecap="round"/>
<line x1="213.50" y1="250.50" x2="215.80" y2="250.50" stroke="#606060" stroke-width="3.0" stroke-linecap="round"/>
<line x1="229.40" y1="250.50" x2="231.70" y2="250.50" stroke="#606060" stroke-width="3.0" stroke-linecap="round"/>
<line x1="245.30" y1="250.50" x2="247.60" y2="250.50" stroke="#606060" stroke-width="3.0" stroke-linecap="round"/>
<line x1="192.70" y1="279.80" x2="195.00" y2="279.80" stroke="#404040" stroke-width="3.0" stroke-linecap="round"/>
<line x1="208.60" y1="279.80" x2="210.90" y2="279.80" stroke="#404040" stroke-width="3.0" stroke-linecap="round"/>
<line x1="224.50" y1="279.80" x2="226.80" y2="279.80" stroke="#404040" stroke-width="3.0" stroke-linecap="round"/>
<line x1="240.70" y1="279.80" x2="258.90" y2="279.80" stroke="#404040" stroke-width="3.0" stroke-linecap="round"/>
<path d="M273.30 150.49 L273.30 168.70 M273.30 150.49 L281.18 150.49 L283.80 151.36 L284.68 152.23 L285.55 153.96 L285.55 155.69 L284.68 157.43 L283.80 158.30 L281.18 159.16 M273.30 159.16 L281.18 159.16 L283.80 160.03 L284.68 160.90 L285.55 162.63 L285.55 165.23 L284.68 166.97 L283.80 167.83 L281.18 168.70 L273.30 168.70 M290.80 161.76 L301.30 161.76 L301.30 160.03 L300.43 158.30 L299.55 157.43 L297.80 156.56 L295.18 156.56 L293.43 157.43 L291.68 159.16 L290.80 161.76 L290.80 163.50 L291.68 166.10 L293.43 167.83 L295.18 168.70 L297.80 168.70 L299.55 167.83 L301.30 166.10 M316.18 159.16 L315.30 157.43 L312.68 156.56 L310.05 156.56 L307.43 157.43 L306.55 159.16 L307.43 160.90 L309.18 161.76 L313.55 162.63 L315.30 163.50 L316.18 165.23 L316.18 166.10 L315.30 167.83 L312.68 168.70 L310.05 168.70 L307.43 167.83 L306.55 166.10 M323.18 150.49 L323.18 165.23 L324.05 167.83 L325.80 168.70 L327.55 168.70 M320.55 156.56 L326.68 156.56 M346.80 150.49 L346.80 168.70 M346.80 150.49 L358.18 150.49 M346.80 159.16 L353.80 159.16 M362.29 150.49 L362.81 150.49 M362.55 156.56 L362.55 168.70 M370.43 150.49 L370.43 165.23 L371.30 167.83 L373.05 168.70 L374.80 168.70 M367.80 156.56 L373.93 156.56" fill="none" stroke="#000" stroke-width="3.4" stroke-linecap="round" stroke-linejoin="round"/>
<path d="M280.30 179.89 L280.30 193.76 L279.43 196.37 L278.55 197.23 L276.80 198.10 L275.05 198.10 L273.30 197.23 L272.43 196.37 L271.55 193.76 L271.55 192.03 M296.93 185.96 L296.93 198.10 M296.93 188.56 L295.18 186.83 L293.43 185.96 L290.80 185.96 L289.05 186.83 L287.30 188.56 L286.43 191.16 L286.43 192.90 L287.30 195.50 L289.05 197.23 L290.80 198.10 L293.43 198.10 L295.18 197.23 L296.93 195.50 M303.93 185.96 L303.93 198.10 M303.93 191.16 L304.80 188.56 L306.55 186.83 L308.30 185.96 L310.93 185.96 M315.30 185.96 L315.30 198.10 M315.30 191.16 L316.18 188.56 L317.93 186.83 L319.68 185.96 L322.30 185.96 M325.80 191.16 L336.30 191.16 L336.30 189.43 L335.43 187.70 L334.55 186.83 L332.80 185.96 L330.18 185.96 L328.43 186.83 L326.68 188.56 L325.80 191.16 L325.80 192.90 L326.68 195.50 L328.43 197.23 L330.18 198.10 L332.80 198.10 L334.55 197.23 L336.30 195.50 M343.30 179.89 L343.30 194.63 L344.18 197.23 L345.93 198.10 L347.68 198.10 M340.68 185.96 L346.80 185.96 M353.80 179.89 L353.80 194.63 L354.68 197.23 L356.43 198.10 L358.18 198.10 M351.18 185.96 L357.30 185.96 M376.55 191.16 L387.05 191.16 L387.05 189.43 L386.18 187.70 L385.30 186.83 L383.55 185.96 L380.93 185.96 L379.18 186.83 L377.43 188.56 L376.55 191.16 L376.55 192.90 L377.43 195.50 L379.18 197.23 L380.93 198.10 L383.55 198.10 L385.30 197.23 L387.05 195.50 M394.05 179.89 L394.05 194.63 L394.93 197.23 L396.68 198.10 L398.43 198.10 M391.43 185.96 L397.55 185.96 M427.30 185.96 L427.30 198.10 M427.30 188.56 L425.55 186.83 L423.80 185.96 L421.18 185.96 L419.43 186.83 L417.68 188.56 L416.80 191.16 L416.80 192.90 L417.68 195.50 L419.43 197.23 L421.18 198.10 L423.80 198.10 L425.55 197.23 L427.30 195.50 M434.30 179.89 L434.30 198.10 M442.18 196.37 L441.30 197.23 L442.18 198.10 L443.05 197.23 L442.18 196.37" fill="none" stroke="#999999" stroke-width="3.3" stroke-linecap="round" stroke-linejoin="round"/>
<path d="M285.55 213.63 L284.68 211.89 L282.93 210.16 L281.18 209.29 L277.68 209.29 L275.93 210.16 L274.18 211.89 L273.30 213.63 L272.43 216.23 L272.43 220.56 L273.30 223.16 L274.18 224.90 L275.93 226.63 L277.68 227.50 L281.18 227.50 L282.93 226.63 L284.68 224.90 L285.55 223.16 M291.68 209.29 L291.68 227.50 M298.68 215.36 L298.68 224.03 L299.55 226.63 L301.30 227.50 L303.93 227.50 L305.68 226.63 L308.30 224.03 M308.30 215.36 L308.30 227.50 M313.55 215.36 L318.80 227.50 M324.05 215.36 L318.80 227.50 M328.43 220.56 L338.93 220.56 L338.93 218.83 L338.05 217.10 L337.18 216.23 L335.43 215.36 L332.80 215.36 L331.05 216.23 L329.30 217.96 L328.43 220.56 L328.43 222.30 L329.30 224.90 L331.05 226.63 L332.80 227.50 L335.43 227.50 L337.18 226.63 L338.93 224.90 M345.05 215.36 L345.05 227.50 M345.05 220.56 L345.93 217.96 L347.68 216.23 L349.43 215.36 L352.05 215.36 M369.55 220.56 L380.05 220.56 L380.05 218.83 L379.18 217.10 L378.30 216.23 L376.55 215.36 L373.93 215.36 L372.18 216.23 L370.43 217.96 L369.55 220.56 L369.55 222.30 L370.43 224.90 L372.18 226.63 L373.93 227.50 L376.55 227.50 L378.30 226.63 L380.05 224.90 M387.05 209.29 L387.05 224.03 L387.93 226.63 L389.68 227.50 L391.43 227.50 M384.43 215.36 L390.55 215.36 M420.30 215.36 L420.30 227.50 M420.30 217.96 L418.55 216.23 L416.80 215.36 L414.18 215.36 L412.43 216.23 L410.68 217.96 L409.80 220.56 L409.80 222.30 L410.68 224.90 L412.43 226.63 L414.18 227.50 L416.80 227.50 L418.55 226.63 L420.30 224.90 M427.30 209.29 L427.30 227.50 M435.18 225.77 L434.30 226.63 L435.18 227.50 L436.05 226.63 L435.18 225.77" fill="none" stroke="#808080" stroke-width="3.3" stroke-linecap="round" stroke-linejoin="round"/>
<path d="M273.30 238.69 L273.30 256.90 M273.30 256.90 L283.80 256.90 M287.30 249.96 L297.80 249.96 L297.80 248.23 L296.93 246.50 L296.05 245.63 L294.30 244.76 L291.68 244.76 L289.93 245.63 L288.18 247.36 L287.30 249.96 L287.30 251.70 L288.18 254.30 L289.93 256.03 L291.68 256.90 L294.30 256.90 L296.05 256.03 L297.80 254.30 M303.05 249.96 L313.55 249.96 L313.55 248.23 L312.68 246.50 L311.80 245.63 L310.05 244.76 L307.43 244.76 L305.68 245.63 L303.93 247.36 L303.05 249.96 L303.05 251.70 L303.93 254.30 L305.68 256.03 L307.43 256.90 L310.05 256.90 L311.80 256.03 L313.55 254.30 M332.80 249.96 L343.30 249.96 L343.30 248.23 L342.43 246.50 L341.55 245.63 L339.80 244.76 L337.18 244.76 L335.43 245.63 L333.68 247.36 L332.80 249.96 L332.80 251.70 L333.68 254.30 L335.43 256.03 L337.18 256.90 L339.80 256.90 L341.55 256.03 L343.30 254.30 M350.30 238.69 L350.30 253.43 L351.18 256.03 L352.93 256.90 L354.68 256.90 M347.68 244.76 L353.80 244.76 M383.55 244.76 L383.55 256.90 M383.55 247.36 L381.80 245.63 L380.05 244.76 L377.43 244.76 L375.68 245.63 L373.93 247.36 L373.05 249.96 L373.05 251.70 L373.93 254.30 L375.68 256.03 L377.43 256.90 L380.05 256.90 L381.80 256.03 L383.55 254.30 M390.55 238.69 L390.55 256.90 M398.43 255.17 L397.55 256.03 L398.43 256.90 L399.30 256.03 L398.43 255.17" fill="none" stroke="#606060" stroke-width="3.3" stroke-linecap="round" stroke-linejoin="round"/>
<path d="M285.55 272.43 L284.68 270.69 L282.93 268.96 L281.18 268.09 L277.68 268.09 L275.93 268.96 L274.18 270.69 L273.30 272.43 L272.43 275.03 L272.43 279.36 L273.30 281.97 L274.18 283.70 L275.93 285.43 L277.68 286.30 L281.18 286.30 L282.93 285.43 L284.68 283.70 L285.55 281.97 M301.30 274.16 L301.30 286.30 M301.30 276.76 L299.55 275.03 L297.80 274.16 L295.18 274.16 L293.43 275.03 L291.68 276.76 L290.80 279.36 L290.80 281.10 L291.68 283.70 L293.43 285.43 L295.18 286.30 L297.80 286.30 L299.55 285.43 L301.30 283.70 M309.18 268.09 L309.18 282.83 L310.05 285.43 L311.80 286.30 L313.55 286.30 M306.55 274.16 L312.68 274.16 M328.43 274.16 L328.43 286.30 M328.43 276.76 L326.68 275.03 L324.93 274.16 L322.30 274.16 L320.55 275.03 L318.80 276.76 L317.93 279.36 L317.93 281.10 L318.80 283.70 L320.55 285.43 L322.30 286.30 L324.93 286.30 L326.68 285.43 L328.43 283.70 M335.43 268.09 L335.43 286.30 M352.05 274.16 L352.05 286.30 M352.05 276.76 L350.30 275.03 L348.55 274.16 L345.93 274.16 L344.18 275.03 L342.43 276.76 L341.55 279.36 L341.55 281.10 L342.43 283.70 L344.18 285.43 L345.93 286.30 L348.55 286.30 L350.30 285.43 L352.05 283.70 M359.05 274.16 L359.05 286.30 M359.05 277.63 L361.68 275.03 L363.43 274.16 L366.05 274.16 L367.80 275.03 L368.68 277.63 L368.68 286.30 M375.68 278.50 L391.43 278.50 M401.93 268.09 L401.93 286.30 M395.80 268.09 L408.05 268.09 M425.55 279.36 L436.05 279.36 L436.05 277.63 L435.18 275.90 L434.30 275.03 L432.55 274.16 L429.93 274.16 L428.18 275.03 L426.43 276.76 L425.55 279.36 L425.55 281.10 L426.43 283.70 L428.18 285.43 L429.93 286.30 L432.55 286.30 L434.30 285.43 L436.05 283.70 M443.05 268.09 L443.05 282.83 L443.93 285.43 L445.68 286.30 L447.43 286.30 M440.43 274.16 L446.55 274.16 M476.30 274.16 L476.30 286.30 M476.30 276.76 L474.55 275.03 L472.80 274.16 L470.18 274.16 L468.43 275.03 L466.68 276.76 L465.80 279.36 L465.80 281.10 L466.68 283.70 L468.43 285.43 L470.18 286.30 L472.80 286.30 L474.55 285.43 L476.30 283.70 M483.30 268.09 L483.30 286.30 M491.18 284.57 L490.30 285.43 L491.18 286.30 L492.05 285.43 L491.18 284.57" fill="none" stroke="#404040" stroke-width="3.3" stroke-linecap="round" stroke-linejoin="round"/>
<path d="M185.00 308.50 L200.75 308.50 M207.75 302.43 L207.75 301.56 L208.62 299.83 L209.50 298.96 L211.25 298.09 L214.75 298.09 L216.50 298.96 L217.38 299.83 L218.25 301.56 L218.25 303.30 L217.38 305.03 L215.62 307.63 L206.88 316.30 L219.12 316.30 M234.88 298.09 L226.12 298.09 L225.25 305.90 L226.12 305.03 L228.75 304.16 L231.38 304.16 L234.00 305.03 L235.75 306.76 L236.62 309.36 L236.62 311.10 L235.75 313.70 L234.00 315.43 L231.38 316.30 L228.75 316.30 L226.12 315.43 L225.25 314.57 L224.38 312.83 M270.75 300.69 L256.75 308.50 L270.75 316.30 M291.75 298.09 L291.75 316.30 M291.75 298.09 L298.75 316.30 M305.75 298.09 L298.75 316.30 M305.75 298.09 L305.75 316.30 M310.57 313.33 L313.87 326.53 M317.18 313.33 L313.87 326.53 M317.18 313.33 L320.48 326.53 M323.78 313.33 L320.48 326.53 M327.75 316.47 L327.75 315.84 L328.41 314.59 L329.07 313.96 L330.39 313.33 L333.03 313.33 L334.35 313.96 L335.01 314.59 L335.67 315.84 L335.67 317.10 L335.01 318.36 L333.69 320.24 L327.09 326.53 L336.34 326.53 M369.82 300.69 L355.82 308.50 L369.82 316.30 M390.82 308.50 L406.57 308.50 M413.57 302.43 L413.57 301.56 L414.44 299.83 L415.32 298.96 L417.07 298.09 L420.57 298.09 L422.32 298.96 L423.19 299.83 L424.07 301.56 L424.07 303.30 L423.19 305.03 L421.44 307.63 L412.69 316.30 L424.94 316.30 M431.07 302.43 L431.07 301.56 L431.94 299.83 L432.82 298.96 L434.57 298.09 L438.07 298.09 L439.82 298.96 L440.69 299.83 L441.57 301.56 L441.57 303.30 L440.69 305.03 L438.94 307.63 L430.19 316.30 L442.44 316.30" fill="none" stroke="#ff0000" stroke-width="3.3" stroke-linecap="round" stroke-linejoin="round"/>
<path d="M185.00 337.92 L200.75 337.92 M207.75 331.85 L207.75 330.98 L208.62 329.25 L209.50 328.38 L211.25 327.51 L214.75 327.51 L216.50 328.38 L217.38 329.25 L218.25 330.98 L218.25 332.72 L217.38 334.45 L215.62 337.05 L206.88 345.72 L219.12 345.72 M225.25 331.85 L225.25 330.98 L226.12 329.25 L227.00 328.38 L228.75 327.51 L232.25 327.51 L234.00 328.38 L234.88 329.25 L235.75 330.98 L235.75 332.72 L234.88 334.45 L233.12 337.05 L224.38 345.72 L236.62 345.72 M270.75 330.11 L256.75 337.92 L270.75 345.72 M291.75 327.51 L291.75 345.72 M291.75 327.51 L298.75 345.72 M305.75 327.51 L298.75 345.72 M305.75 327.51 L305.75 345.72 M310.57 342.75 L313.87 355.95 M317.18 342.75 L313.87 355.95 M317.18 342.75 L320.48 355.95 M323.78 342.75 L320.48 355.95 M327.75 345.89 L327.75 345.26 L328.41 344.01 L329.07 343.38 L330.39 342.75 L333.03 342.75 L334.35 343.38 L335.01 344.01 L335.67 345.26 L335.67 346.52 L335.01 347.78 L333.69 349.66 L327.09 355.95 L336.34 355.95 M369.82 330.11 L355.82 337.92 L369.82 345.72 M390.82 337.92 L406.57 337.92 M415.32 330.98 L417.07 330.11 L419.69 327.51 L419.69 345.72 M441.57 333.58 L440.69 336.18 L438.94 337.92 L436.32 338.78 L435.44 338.78 L432.82 337.92 L431.07 336.18 L430.19 333.58 L430.19 332.72 L431.07 330.11 L432.82 328.38 L435.44 327.51 L436.32 327.51 L438.94 328.38 L440.69 330.11 L441.57 333.58 L441.57 337.92 L440.69 342.25 L438.94 344.85 L436.32 345.72 L434.57 345.72 L431.94 344.85 L431.07 343.12" fill="none" stroke="#ff7f00" stroke-width="3.3" stroke-linecap="round" stroke-linejoin="round"/>
<path d="M185.00 367.34 L200.75 367.34 M209.50 360.40 L211.25 359.53 L213.88 356.93 L213.88 375.14 M235.75 363.00 L234.88 365.60 L233.12 367.34 L230.50 368.20 L229.62 368.20 L227.00 367.34 L225.25 365.60 L224.38 363.00 L224.38 362.13 L225.25 359.53 L227.00 357.80 L229.62 356.93 L230.50 356.93 L233.12 357.80 L234.88 359.53 L235.75 363.00 L235.75 367.34 L234.88 371.67 L233.12 374.27 L230.50 375.14 L228.75 375.14 L226.12 374.27 L225.25 372.54 M270.75 359.53 L256.75 367.34 L270.75 375.14 M291.75 356.93 L291.75 375.14 M291.75 356.93 L298.75 375.14 M305.75 356.93 L298.75 375.14 M305.75 356.93 L305.75 375.14 M310.57 372.17 L313.87 385.37 M317.18 372.17 L313.87 385.37 M317.18 372.17 L320.48 385.37 M323.78 372.17 L320.48 385.37 M327.75 375.31 L327.75 374.68 L328.41 373.43 L329.07 372.80 L330.39 372.17 L333.03 372.17 L334.35 372.80 L335.01 373.43 L335.67 374.68 L335.67 375.94 L335.01 377.20 L333.69 379.08 L327.09 385.37 L336.34 385.37 M369.82 359.53 L355.82 367.34 L369.82 375.14 M390.82 367.34 L406.57 367.34 M415.32 360.40 L417.07 359.53 L419.69 356.93 L419.69 375.14 M441.57 359.53 L440.69 357.80 L438.07 356.93 L436.32 356.93 L433.69 357.80 L431.94 360.40 L431.07 364.74 L431.07 369.07 L431.94 372.54 L433.69 374.27 L436.32 375.14 L437.19 375.14 L439.82 374.27 L441.57 372.54 L442.44 369.94 L442.44 369.07 L441.57 366.47 L439.82 364.74 L437.19 363.87 L436.32 363.87 L433.69 364.74 L431.94 366.47 L431.07 369.07" fill="none" stroke="#ff00ff" stroke-width="3.3" stroke-linecap="round" stroke-linejoin="round"/>
<path d="M185.00 396.76 L200.75 396.76 M209.50 389.82 L211.25 388.95 L213.88 386.35 L213.88 404.56 M235.75 388.95 L234.88 387.22 L232.25 386.35 L230.50 386.35 L227.88 387.22 L226.12 389.82 L225.25 394.16 L225.25 398.49 L226.12 401.96 L227.88 403.69 L230.50 404.56 L231.38 404.56 L234.00 403.69 L235.75 401.96 L236.62 399.36 L236.62 398.49 L235.75 395.89 L234.00 394.16 L231.38 393.29 L230.50 393.29 L227.88 394.16 L226.12 395.89 L225.25 398.49 M270.75 388.95 L256.75 396.76 L270.75 404.56 M291.75 386.35 L291.75 404.56 M291.75 386.35 L298.75 404.56 M305.75 386.35 L298.75 404.56 M305.75 386.35 L305.75 404.56 M310.57 401.59 L313.87 414.79 M317.18 401.59 L313.87 414.79 M317.18 401.59 L320.48 414.79 M323.78 401.59 L320.48 414.79 M327.75 404.73 L327.75 404.10 L328.41 402.85 L329.07 402.22 L330.39 401.59 L333.03 401.59 L334.35 402.22 L335.01 402.85 L335.67 404.10 L335.67 405.36 L335.01 406.62 L333.69 408.50 L327.09 414.79 L336.34 414.79 M369.82 388.95 L355.82 396.76 L369.82 404.56 M390.82 396.76 L406.57 396.76 M415.32 389.82 L417.07 388.95 L419.69 386.35 L419.69 404.56 M431.94 386.35 L441.57 386.35 L436.32 393.29 L438.94 393.29 L440.69 394.16 L441.57 395.02 L442.44 397.62 L442.44 399.36 L441.57 401.96 L439.82 403.69 L437.19 404.56 L434.57 404.56 L431.94 403.69 L431.07 402.83 L430.19 401.09" fill="none" stroke="#0000ff" stroke-width="3.3" stroke-linecap="round" stroke-linejoin="round"/>
<path d="M185.00 426.18 L200.75 426.18 M209.50 419.24 L211.25 418.37 L213.88 415.77 L213.88 433.98 M226.12 415.77 L235.75 415.77 L230.50 422.71 L233.12 422.71 L234.88 423.58 L235.75 424.44 L236.62 427.04 L236.62 428.78 L235.75 431.38 L234.00 433.11 L231.38 433.98 L228.75 433.98 L226.12 433.11 L225.25 432.25 L224.38 430.51 M270.75 418.37 L256.75 426.18 L270.75 433.98 M291.75 415.77 L291.75 433.98 M291.75 415.77 L298.75 433.98 M305.75 415.77 L298.75 433.98 M305.75 415.77 L305.75 433.98 M310.57 431.01 L313.87 444.21 M317.18 431.01 L313.87 444.21 M317.18 431.01 L320.48 444.21 M323.78 431.01 L320.48 444.21 M327.75 434.15 L327.75 433.52 L328.41 432.27 L329.07 431.64 L330.39 431.01 L333.03 431.01 L334.35 431.64 L335.01 432.27 L335.67 433.52 L335.67 434.78 L335.01 436.04 L333.69 437.92 L327.09 444.21 L336.34 444.21 M369.82 418.37 L355.82 426.18 L369.82 433.98 M390.82 426.18 L406.57 426.18 M415.32 419.24 L417.07 418.37 L419.69 415.77 L419.69 433.98 M435.44 415.77 L432.82 416.64 L431.07 419.24 L430.19 423.58 L430.19 426.18 L431.07 430.51 L432.82 433.11 L435.44 433.98 L437.19 433.98 L439.82 433.11 L441.57 430.51 L442.44 426.18 L442.44 423.58 L441.57 419.24 L439.82 416.64 L437.19 415.77 L435.44 415.77" fill="none" stroke="#007fff" stroke-width="3.3" stroke-linecap="round" stroke-linejoin="round"/>
</svg>
</body></html>
